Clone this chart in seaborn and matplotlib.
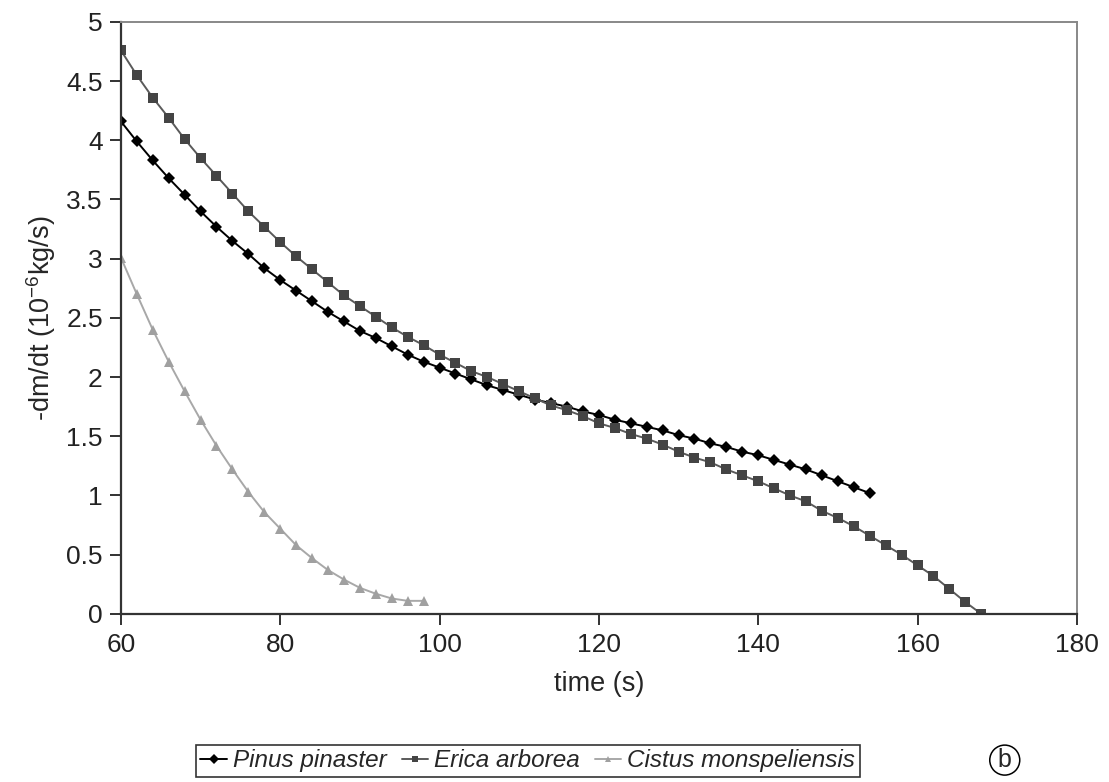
import numpy as np
import pandas as pd
import matplotlib
matplotlib.use("Agg")
import matplotlib.pyplot as plt
import seaborn as sns

sns.set_style("white")
plt.rcParams['font.family'] = ['Liberation Sans', 'DejaVu Sans']
plt.rcParams['mathtext.fontset'] = 'custom'
plt.rcParams['mathtext.rm'] = 'Liberation Sans'
plt.rcParams['mathtext.it'] = 'Liberation Sans:italic'

# data (time in s, -dm/dt in 1e-6 kg/s)
pinus_t = list(range(60, 156, 2))
pinus_v = [4.16, 3.99, 3.83, 3.68, 3.54, 3.40, 3.27, 3.15, 3.04, 2.92,
           2.82, 2.73, 2.64, 2.55, 2.47, 2.39, 2.33, 2.26, 2.19, 2.13,
           2.08, 2.03, 1.98, 1.93, 1.89, 1.85, 1.81, 1.78, 1.75, 1.71,
           1.68, 1.64, 1.61, 1.58, 1.55, 1.51, 1.48, 1.44, 1.41, 1.37,
           1.34, 1.30, 1.26, 1.22, 1.17, 1.12, 1.07, 1.02]

erica_t = list(range(60, 170, 2))
erica_v = [4.76, 4.55, 4.36, 4.19, 4.01, 3.85, 3.70, 3.55, 3.40, 3.27,
           3.14, 3.02, 2.91, 2.80, 2.69, 2.60, 2.51, 2.42, 2.34, 2.27,
           2.19, 2.12, 2.05, 2.00, 1.94, 1.88, 1.82, 1.76, 1.72, 1.67,
           1.61, 1.57, 1.52, 1.48, 1.43, 1.37, 1.32, 1.28, 1.22, 1.17,
           1.12, 1.06, 1.00, 0.95, 0.87, 0.81, 0.74, 0.66, 0.58, 0.50,
           0.41, 0.32, 0.21, 0.10, 0.00]

cistus_t = list(range(60, 100, 2))
cistus_v = [3.01, 2.70, 2.40, 2.13, 1.88, 1.64, 1.42, 1.22, 1.03, 0.86,
            0.72, 0.58, 0.47, 0.37, 0.29, 0.22, 0.17, 0.13, 0.11, 0.11]

species = ["Pinus pinaster", "Erica arborea", "Cistus monspeliensis"]
colors = ["#000000", "#444444", "#a0a0a0"]
line_colors = ["#000000", "#5a5a5a", "#a8a8a8"]
markers = ["D", "s", "^"]

df = pd.concat([
    pd.DataFrame({"time": pinus_t, "rate": pinus_v, "species": species[0]}),
    pd.DataFrame({"time": erica_t, "rate": erica_v, "species": species[1]}),
    pd.DataFrame({"time": cistus_t, "rate": cistus_v, "species": species[2]}),
])

fig = plt.figure(figsize=(11.09, 7.82), dpi=100)
ax = fig.add_axes([0.109, 0.215, 0.862, 0.757])

sns.lineplot(data=df, x="time", y="rate", hue="species", style="species",
             hue_order=species, style_order=species,
             palette=dict(zip(species, colors)),
             markers=dict(zip(species, markers)), dashes=False,
             linewidth=1.4, markersize=7.5, markeredgewidth=0,
             legend=True, ax=ax)

# line a touch lighter than its markers, diamonds a bit smaller
for line in ax.lines:
    m = line.get_marker()
    if m in markers:
        i = markers.index(m)
        line.set_color(line_colors[i])
        line.set_markerfacecolor(colors[i])
        line.set_markeredgecolor(colors[i])
        if m == "D":
            line.set_markersize(6.3)

ax.set_xlim(60, 180)
ax.set_ylim(0, 5)
ax.set_xticks(np.arange(60, 181, 20))
ax.set_yticks(np.arange(0, 5.01, 0.5))
ax.set_yticklabels([f"{v:g}" for v in np.arange(0, 5.01, 0.5)])

ax.tick_params(axis="both", which="major", labelsize=19, direction="out",
               length=8, width=1.3, colors="#222222", left=True, bottom=True)
ax.tick_params(axis="x", pad=6)
ax.tick_params(axis="y", pad=5)

for side in ["left", "bottom"]:
    ax.spines[side].set_color("#333333")
    ax.spines[side].set_linewidth(1.6)
for side in ["top", "right"]:
    ax.spines[side].set_color("#888888")
    ax.spines[side].set_linewidth(1.4)

ax.set_xlabel("time (s)", fontsize=19.5, labelpad=10)
ax.set_ylabel("-dm/dt (10$^{-6}$kg/s)", fontsize=19.5, labelpad=6)

handles, labels = ax.get_legend_handles_labels()
for h in handles:
    m = h.get_marker()
    if m in markers:
        i = markers.index(m)
        h.set_color(line_colors[i])
        h.set_markerfacecolor(colors[i])
        h.set_markeredgecolor(colors[i])
        h.set_markersize(5)
ax.get_legend().remove()
leg = fig.legend(handles, labels, loc="center", bbox_to_anchor=(0.476, 0.027),
                 ncol=3, fontsize=17.5, frameon=True, fancybox=False,
                 edgecolor="black", handlelength=1.1, handletextpad=0.25,
                 columnspacing=0.6, borderpad=0.2, borderaxespad=0)
leg.get_frame().set_linewidth(1.2)
for t in leg.get_texts():
    t.set_fontstyle("italic")

fig.text(0.906, 0.028, "b", fontsize=18, ha="center", va="center",
         bbox=dict(boxstyle="circle,pad=0.12", fc="white", ec="black", lw=1.1))

fig.savefig("out.png", dpi=100)
